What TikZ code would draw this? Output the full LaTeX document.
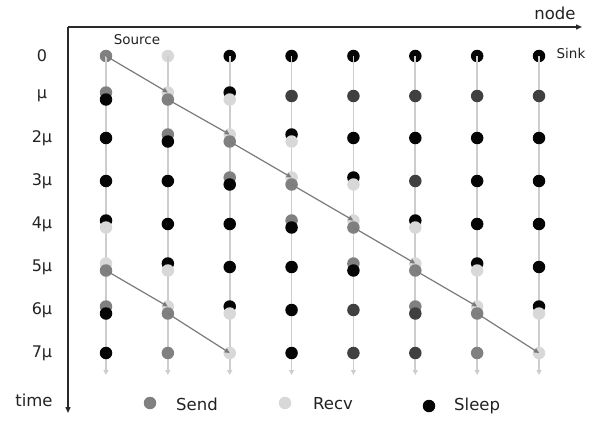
\documentclass[tikz,border=0pt]{standalone}
\usepackage{fontspec}
\setmainfont{DejaVu Sans}
\usetikzlibrary{arrows.meta}
\definecolor{snd}{HTML}{808080}
\definecolor{rcv}{HTML}{D8D8D8}
\definecolor{slp}{HTML}{050505}
\definecolor{idl}{HTML}{404040}
\definecolor{vlinec}{HTML}{CDCDCD}
\definecolor{msgc}{HTML}{7A7A7A}
\definecolor{axisc}{HTML}{2A2A2A}
\definecolor{textc}{HTML}{222222}
\begin{document}
\begin{tikzpicture}[x=1pt,y=-1pt,
  dot/.style={circle,inner sep=0pt,minimum size=12.5pt,draw=none},
  vline/.style={draw=vlinec,line width=1.8pt,-{Triangle[length=5pt,width=5pt]}},
  msg/.style={draw=msgc,line width=1.2pt,-{Triangle[length=5pt,width=4.5pt]}},
  axis/.style={draw=axisc,line width=1.4pt,-{Triangle[length=6pt,width=5pt]}},
  rowlbl/.style={text=textc,font=\fontsize{16}{18}\selectfont,inner sep=0pt},
  ttl/.style={text=textc,font=\fontsize{16.5}{19}\selectfont,inner sep=0pt},
  small/.style={text=textc,font=\fontsize{13.5}{16}\selectfont,inner sep=0pt}]
\useasboundingbox (0,0) rectangle (596,420);

% axes
\coordinate (org) at (68,27);
\coordinate (xend) at (582,27);
\coordinate (yend) at (68,413);
\draw[axis] (org) -- (xend);
\draw[axis] (org) -- (yend);
\node[ttl] (nodelbl) at (555,13) {node};
\node[ttl] (timelbl) at (34,400) {time};

% row labels
\foreach \ri/\lb in {0/0,1/μ,2/2μ,3/3μ,4/4μ,5/5μ,6/6μ,7/7μ}{
  \pgfmathsetmacro\yy{{56,96,138,181,224,267,310,353}[\ri]}
  \node[rowlbl] (lbl\ri) at (42,\yy) {\lb};
}

% row 0 dots
\foreach \ci/\st in {1/snd,2/rcv,3/slp,4/slp,5/slp,6/slp,7/slp,8/slp}{
  \pgfmathsetmacro\xx{106+61.86*(\ci-1)}
  \node[dot,fill=\st] (c\ci-0) at (\xx,56) {};
}

% vertical time lines
\foreach \ci in {1,...,8}{
  \pgfmathsetmacro\xx{106+61.86*(\ci-1)}
  \coordinate (e\ci) at (\xx,375);
  \draw[vline] (c\ci-0.center) -- (e\ci);
}

% single dots
\foreach \ci/\ri/\st in {1/2/slp,1/3/slp,1/7/slp,
  2/3/slp,2/4/slp,2/7/snd,
  3/4/slp,3/5/slp,3/7/rcv,
  4/1/idl,4/5/slp,4/6/slp,4/7/slp,
  5/1/idl,5/2/slp,5/6/idl,5/7/idl,
  6/1/idl,6/2/slp,6/3/idl,6/7/idl,
  7/1/idl,7/2/slp,7/3/slp,7/4/slp,7/7/snd,
  8/1/idl,8/2/slp,8/3/slp,8/4/slp,8/5/slp,8/7/rcv}{
  \pgfmathsetmacro\xx{106+61.86*(\ci-1)}
  \pgfmathsetmacro\yy{{56,96,138,181,224,267,310,353}[\ri]}
  \node[dot,fill=\st] (c\ci-\ri) at (\xx,\yy) {};
}

% double dots (upper drawn first, lower on top)
\foreach \ci/\ri/\su/\sl in {1/1/snd/slp,1/4/slp/rcv,1/5/rcv/snd,1/6/snd/slp,
  2/1/rcv/snd,2/2/snd/slp,2/5/slp/rcv,2/6/rcv/snd,
  3/1/slp/rcv,3/2/rcv/snd,3/3/snd/slp,3/6/slp/rcv,
  4/2/slp/rcv,4/3/rcv/snd,4/4/snd/slp,
  5/3/slp/rcv,5/4/rcv/snd,5/5/snd/slp,
  6/4/slp/rcv,6/5/rcv/snd,6/6/snd/idl,
  7/5/slp/rcv,7/6/rcv/snd,
  8/6/slp/rcv}{
  \pgfmathsetmacro\xx{106+61.86*(\ci-1)}
  \pgfmathsetmacro\yy{{56,96,138,181,224,267,310,353}[\ri]}
  \node[dot,fill=\su] (c\ci-\ri a) at (\xx,\yy-3.5) {};
  \node[dot,fill=\sl] (c\ci-\ri b) at (\xx,\yy+3.5) {};
}

% message paths
\draw[msg] (c1-0.center) -- (c2-1a.center);
\draw[msg] (c2-1b.center) -- (c3-2a.center);
\draw[msg] (c3-2b.center) -- (c4-3a.center);
\draw[msg] (c4-3b.center) -- (c5-4a.center);
\draw[msg] (c5-4b.center) -- (c6-5a.center);
\draw[msg] (c6-5b.center) -- (c7-6a.center);
\draw[msg] (c7-6b.center) -- (c8-7.center);
\draw[msg] (c1-5b.center) -- (c2-6a.center);
\draw[msg] (c2-6b.center) -- (c3-7.center);

% source / sink
\node[small] (src) at (137,40) {Source};
\node[small] (snk) at (571,53) {Sink};

% legend
\node[dot,fill=snd] (lgs) at (150,403) {};
\node[ttl,anchor=west] (lgst) at (176,404) {Send};
\node[dot,fill=rcv] (lgr) at (285,403) {};
\node[ttl,anchor=west] (lgrt) at (313,404) {Recv};
\node[dot,fill=slp] (lgk) at (429,406) {};
\node[ttl,anchor=west] (lgkt) at (454,406) {Sleep};
\end{tikzpicture}
\end{document}
